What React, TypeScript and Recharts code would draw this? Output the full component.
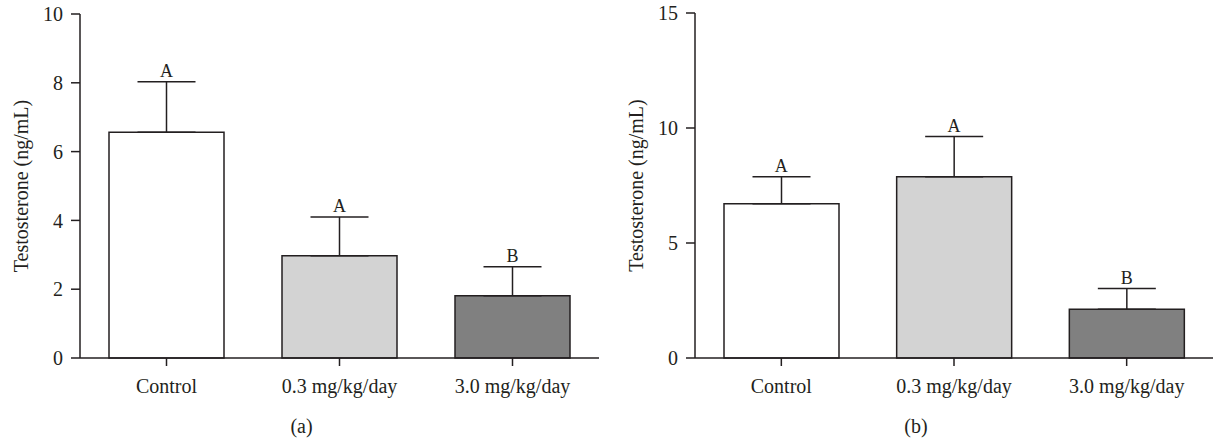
import {
  ComposedChart,
  Bar,
  Line,
  XAxis,
  YAxis,
  Cell,
  ErrorBar,
  LabelList,
} from 'recharts'

const categories = ['Control', '0.3 mg/kg/day', '3.0 mg/kg/day']
const fills = ['#ffffff', '#d3d3d3', '#808080']

// panel (a)
const meansA = [6.56, 2.97, 1.81]
const errsA = [1.47, 1.13, 0.84]
const lettersA = ['A', 'A', 'B']
const ticksA = [0, 2, 4, 6, 8, 10]

// panel (b)
const meansB = [6.71, 7.88, 2.12]
const errsB = [1.17, 1.75, 0.9]
const lettersB = ['A', 'A', 'B']
const ticksB = [0, 5, 10, 15]

const ink = '#231f20'
const font = '"Liberation Serif", "Times New Roman", serif'

function buildRows(means: number[], errs: number[], letters: string[]) {
  return categories.map((name, i) => ({
    name,
    mean: means[i],
    err: [0, errs[i]],
    top: means[i] + errs[i],
    letter: letters[i],
  }))
}

function Letter(props: any) {
  const { x, y, value } = props
  return (
    <text x={x} y={y - 5} textAnchor="middle" fontFamily={font} fontSize={18} fill={ink}>
      {value}
    </text>
  )
}

function Panel({
  width,
  yWidth,
  top,
  right,
  means,
  errs,
  letters,
  ticks,
  tag,
}: {
  width: number
  yWidth: number
  top: number
  right: number
  means: number[]
  errs: number[]
  letters: string[]
  ticks: number[]
  tag: string
}) {
  const data = buildRows(means, errs, letters)
  const max = ticks[ticks.length - 1]
  return (
    <ComposedChart
      width={width}
      height={441}
      data={data}
      margin={{ top, right, bottom: 0, left: 0 }}
      barCategoryGap={29}
    >
      <XAxis
        dataKey="name"
        interval={0}
        height={83}
        tickSize={8}
        tickMargin={13}
        axisLine={{ stroke: ink, strokeWidth: 1.5 }}
        tickLine={{ stroke: ink, strokeWidth: 1.5 }}
        tick={{ fill: ink, fontSize: 20, fontFamily: font }}
        label={{
          content: (p: any) => {
            const vb = p.viewBox
            return (
              <text
                x={vb.x + vb.width / 2 - 38}
                y={433}
                textAnchor="middle"
                fontFamily={font}
                fontSize={20}
                fill={ink}
              >
                {tag}
              </text>
            )
          },
        }}
      />
      <YAxis
        width={yWidth}
        domain={[0, max]}
        ticks={ticks}
        interval={0}
        tickSize={9}
        tickMargin={8}
        axisLine={{ stroke: ink, strokeWidth: 1.5 }}
        tickLine={{ stroke: ink, strokeWidth: 1.5 }}
        tick={{ fill: ink, fontSize: 20, fontFamily: font }}
        label={{
          content: (p: any) => {
            const vb = p.viewBox
            const cx = vb.x + vb.width - 59
            const cy = vb.y + vb.height / 2
            return (
              <text
                x={cx}
                y={cy}
                transform={`rotate(-90, ${cx}, ${cy})`}
                textAnchor="middle"
                dominantBaseline="central"
                fontFamily={font}
                fontSize={20}
                fill={ink}
              >
                Testosterone (ng/mL)
              </text>
            )
          },
        }}
      />
      <Bar dataKey="mean" stroke={ink} strokeWidth={1.5} isAnimationActive={false}>
        {data.map((d, i) => (
          <Cell key={d.name} fill={fills[i]} />
        ))}
        <ErrorBar dataKey="err" width={29} stroke={ink} strokeWidth={1.5} direction="y" isAnimationActive={false} />
      </Bar>
      <Line
        dataKey="top"
        stroke="none"
        dot={false}
        activeDot={false}
        isAnimationActive={false}
      >
        <LabelList dataKey="letter" content={<Letter />} />
      </Line>
    </ComposedChart>
  )
}

export default function App() {
  return (
    <div
      style={{
        position: 'absolute',
        left: 0,
        top: 0,
        width: 1215,
        height: 441,
        background: '#fff',
        display: 'flex',
      }}
    >
      <Panel width={607} yWidth={80} top={14} right={8} means={meansA} errs={errsA} letters={lettersA} ticks={ticksA} tag="(a)" />
      <Panel width={608} yWidth={88} top={13} right={2} means={meansB} errs={errsB} letters={lettersB} ticks={ticksB} tag="(b)" />
    </div>
  )
}
